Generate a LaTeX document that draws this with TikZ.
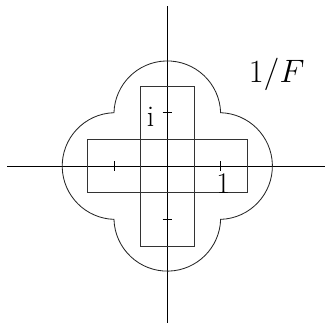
\documentclass[tikz,border=0pt]{standalone}
\begin{document}
\begin{tikzpicture}[x=1cm,y=1cm,
  axis/.style={line width=0.5pt,black},
  box/.style={line width=0.45pt,black!80},
  curve/.style={line width=0.45pt,black!85},
  tick/.style={line width=0.4pt},
  lbl/.style={inner sep=0pt,font=\fontsize{16}{18}\selectfont}]
\useasboundingbox (-3.137,-2.925) rectangle (2.957,3.113);
% axes
\coordinate (xl) at (-3,0);
\coordinate (xr) at (3,0);
\coordinate (yb) at (0,-3);
\coordinate (yt) at (0,3);
\draw[axis] (xl) -- (xr);
\draw[axis] (yb) -- (yt);
% rectangles
\draw[box] (-1.5,-0.5) rectangle (1.5,0.5);
\draw[box] (-0.5,-1.5) rectangle (0.5,1.5);
% ticks
\draw[tick] (1,-0.09) -- (1,0.09);
\draw[tick] (-1,-0.09) -- (-1,0.09);
\draw[tick] (-0.09,1) -- (0.09,1);
\draw[tick] (-0.09,-1) -- (0.09,-1);
% four-leaf curve
\def\rr{1.0005}
\draw[curve] (1,1) arc[start angle=1.72,end angle=178.28,radius=\rr]
  arc[start angle=91.72,end angle=268.28,radius=\rr]
  arc[start angle=181.72,end angle=358.28,radius=\rr]
  arc[start angle=271.72,end angle=448.28,radius=\rr] -- cycle;
% labels
\node[lbl] (i) at (-0.315,0.93) {i};
\node[lbl] (one) at (1.05,-0.32) {1};
\node[lbl] (F) at (2.05,1.725) {$1/F$};
\end{tikzpicture}
\end{document}
